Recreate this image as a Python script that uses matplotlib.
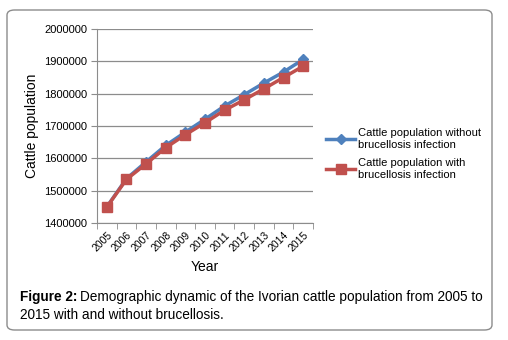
import matplotlib.pyplot as plt
from matplotlib.patches import FancyBboxPatch

plt.rcParams['font.family'] = ['Liberation Sans', 'DejaVu Sans']

# data
years = ['2005', '2006', '2007', '2008', '2009', '2010',
         '2011', '2012', '2013', '2014', '2015']
without_bruc = [1450000, 1537000, 1589000, 1640000, 1681000, 1721000,
                1762000, 1797000, 1833000, 1867000, 1906000]
with_bruc = [1449000, 1535000, 1583000, 1633000, 1673000, 1710000,
             1749000, 1781000, 1815000, 1850000, 1885000]
yticks = [1400000, 1500000, 1600000, 1700000, 1800000, 1900000, 2000000]

fig = plt.figure(figsize=(5.08, 3.40), dpi=100)

# rounded frame round the whole figure
frame = FancyBboxPatch((7/508, 10/340), 485/508, 320/340,
                       boxstyle="round,pad=0,rounding_size=0.015",
                       transform=fig.transFigure, fill=False,
                       edgecolor='#8c8c8c', linewidth=1.0)
fig.patches.append(frame)

ax = fig.add_axes([97/508, 1 - 223/340, 216/508, 194/340])
x = list(range(len(years)))
ax.plot(x, without_bruc, color='#4F81BD', linewidth=2.5, marker='D',
        markersize=5, label='Cattle population without\nbrucellosis infection')
ax.plot(x, with_bruc, color='#C0504D', linewidth=2.5, marker='s',
        markersize=7.5, label='Cattle population with\nbrucellosis infection')

ax.set_xlim(-0.5, len(years) - 0.5)
ax.set_ylim(1400000, 2000000)
ax.set_yticks(yticks)
ax.set_yticklabels([str(v) for v in yticks], fontsize=8)
ax.set_xticks(x)
ax.set_xticklabels(years, rotation=45, ha='right', rotation_mode='anchor',
                   fontsize=7.5)
ax.tick_params(axis='x', length=0, pad=5)
ax.set_xticks([i - 0.5 for i in range(len(years) + 1)], minor=True)
ax.tick_params(axis='x', which='minor', length=4, color='#8c8c8c')
ax.tick_params(axis='y', length=4, color='#8c8c8c', pad=3)
ax.grid(axis='y', color='#8c8c8c', linewidth=0.9)
ax.set_axisbelow(True)
for s in ['top', 'right']:
    ax.spines[s].set_visible(False)
for s in ['left', 'bottom']:
    ax.spines[s].set_color('#8c8c8c')

ax.set_ylabel('Cattle population', fontsize=10, labelpad=4)
ax.set_xlabel('Year', fontsize=10, labelpad=5)

ax.legend(loc='upper left', bbox_to_anchor=(322/508, 1 - 124/340),
          bbox_transform=fig.transFigure, frameon=False, fontsize=8,
          handlelength=2.6, handletextpad=0.2, labelspacing=0.75,
          borderaxespad=0)

# caption: bold label, then the rest of the text
cap_y = 1 - 297/340
bold = fig.text(20/508, cap_y, 'Figure 2:', fontsize=9.8, fontweight='bold',
                va='center', ha='left')
fig.canvas.draw()
bb = bold.get_window_extent()
x_after = (bb.x1 + 3) / fig.bbox.width
fig.text(x_after, cap_y,
         'Demographic dynamic of the Ivorian cattle population from 2005 to',
         fontsize=9.8, va='center', ha='left')
fig.text(20/508, 1 - 315/340, '2015 with and without brucellosis.',
         fontsize=9.8, va='center', ha='left')

fig.savefig('out.png', dpi=100)
